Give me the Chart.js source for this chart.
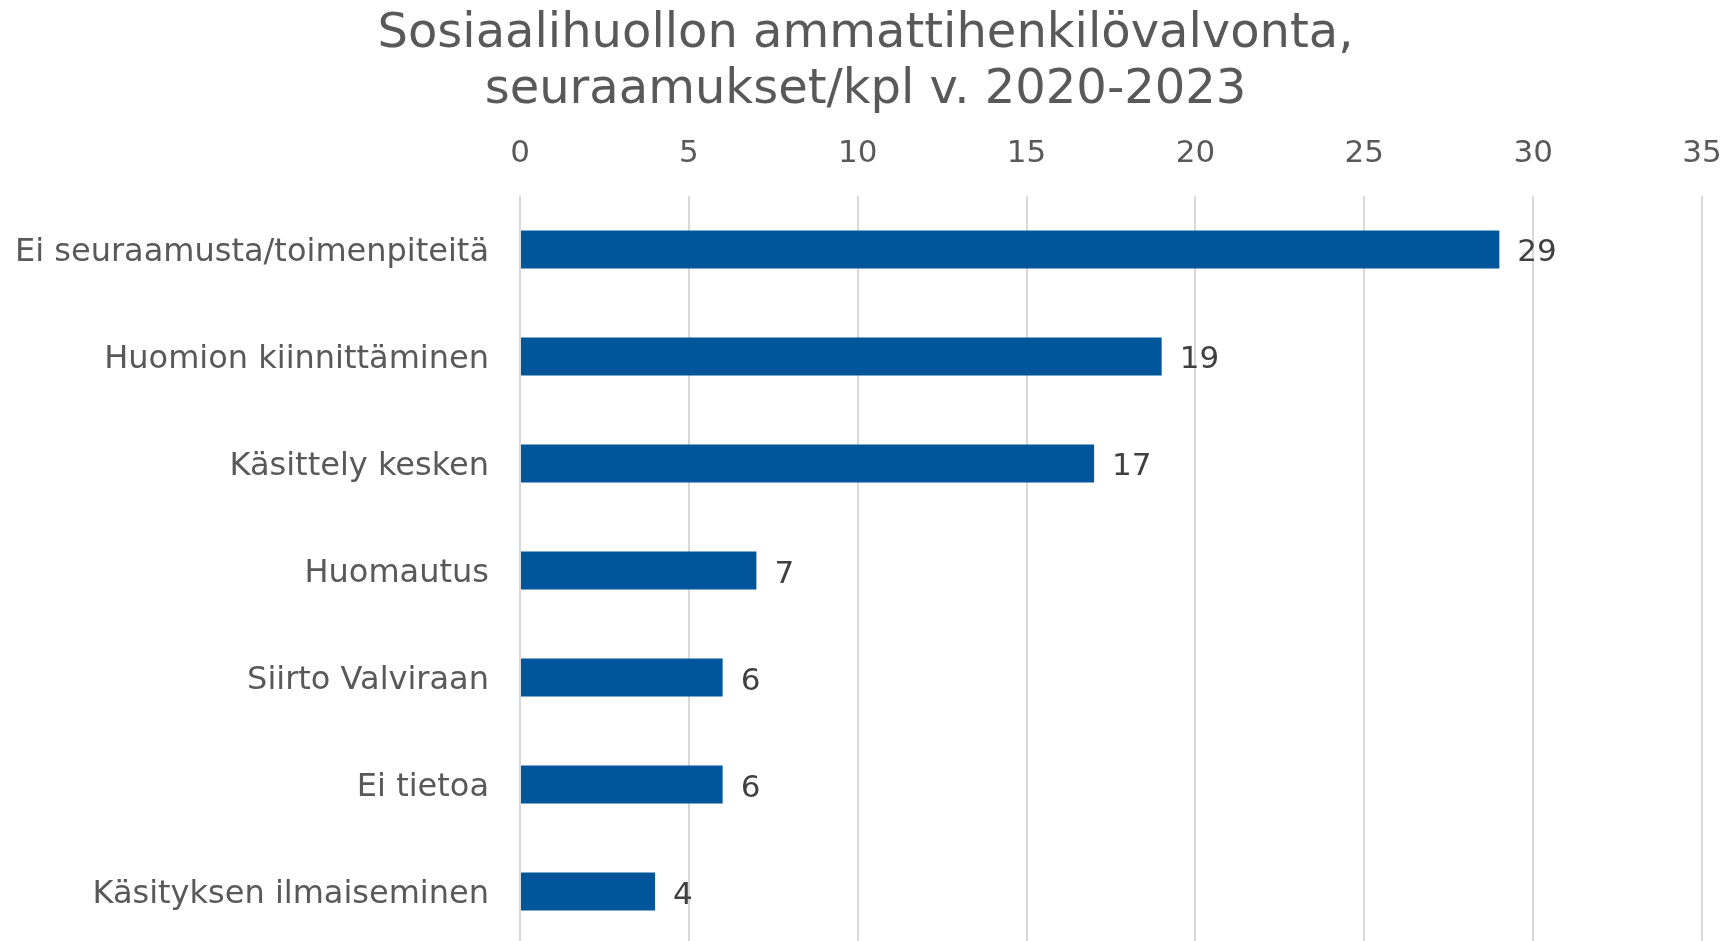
<!DOCTYPE html>
<html>
<head>
<meta charset="utf-8">
<script src="https://cdn.jsdelivr.net/npm/chart.js@4"></script>
<style>
  html, body { margin: 0; padding: 0; background: #ffffff; overflow: hidden; }
  #outer { width: 1731px; height: 941px; overflow: hidden; position: relative; }
  #wrap { width: 1731px; height: 945px; position: relative; }
</style>
</head>
<body>
<div id="outer"><div id="wrap"><canvas id="c"></canvas></div></div>
<script>
const titleLines = ["Sosiaalihuollon ammattihenkilövalvonta,", "seuraamukset/kpl v. 2020-2023"];
const categories = [
  "Ei seuraamusta/toimenpiteitä",
  "Huomion kiinnittäminen",
  "Käsittely kesken",
  "Huomautus",
  "Siirto Valviraan",
  "Ei tietoa",
  "Käsityksen ilmaiseminen"
];
const values = [29, 19, 17, 7, 6, 6, 4];
const axisMin = 0;
const axisMax = 35;
const axisStep = 5;

const FONT = "'DejaVu Sans', Verdana, sans-serif";

const valueLabels = {
  id: 'valueLabels',
  afterDatasetsDraw(chart) {
    const ctx = chart.ctx;
    const meta = chart.getDatasetMeta(0);
    ctx.save();
    ctx.font = "31px " + FONT;
    ctx.fillStyle = "#404040";
    ctx.textAlign = "left";
    ctx.textBaseline = "middle";
    meta.data.forEach((bar, i) => {
      ctx.fillText(String(values[i]), bar.x + 18, bar.y + 4);
    });
    ctx.restore();
  }
};

new Chart(document.getElementById('c'), {
  type: 'bar',
  data: {
    labels: categories,
    datasets: [{
      data: values,
      backgroundColor: '#00559B',
      borderWidth: 0,
      categoryPercentage: 1,
      barPercentage: 0.355
    }]
  },
  options: {
    indexAxis: 'y',
    responsive: true,
    maintainAspectRatio: false,
    animation: false,
    layout: { padding: { top: 0, left: 0, right: 0, bottom: 0 } },
    plugins: {
      legend: { display: false },
      tooltip: { enabled: false },
      title: {
        display: true,
        text: titleLines,
        color: '#595959',
        font: { family: FONT, size: 48, weight: 'normal', lineHeight: 1.17 },
        padding: { top: 6, bottom: 0 }
      }
    },
    scales: {
      x: {
        position: 'top',
        min: axisMin,
        max: axisMax,
        afterFit(scale) {
          scale.height = 77.6;
          scale.paddingLeft = 0;
          scale.paddingRight = 29;
        },
        ticks: {
          stepSize: axisStep,
          color: '#595959',
          font: { family: FONT, size: 31, lineHeight: 1.2 },
          padding: 23
        },
        grid: { color: '#d9d9d9', lineWidth: 2, drawTicks: false },
        border: { display: false }
      },
      y: {
        afterFit(scale) {
          scale.width = 520;
          scale.paddingTop = 0;
          scale.paddingBottom = 0;
        },
        ticks: {
          color: '#595959',
          font: { family: FONT, size: 32 },
          padding: 31,
          labelOffset: 3
        },
        grid: { display: false, drawTicks: false },
        border: { display: false }
      }
    }
  },
  plugins: [valueLabels]
});
</script>
</body>
</html>
